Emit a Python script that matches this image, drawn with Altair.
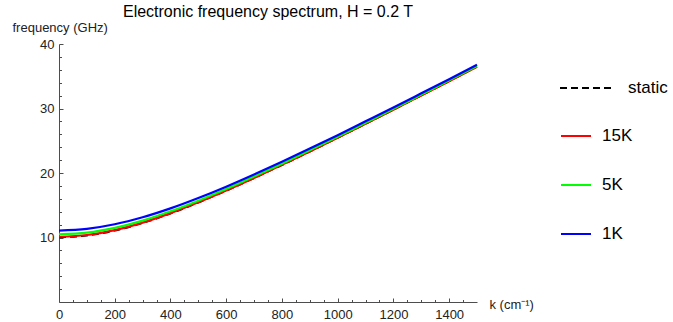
import altair as alt
import pandas as pd

# ---- data ----
k_values = [0, 100, 200, 300, 400, 500, 600, 700, 800, 900, 1000, 1100, 1200, 1300, 1400, 1500]
static_vals = [10.00, 10.27, 11.04, 12.21, 13.69, 15.38, 17.22, 19.17, 21.20, 23.29, 25.42, 27.59, 29.77, 31.99, 34.21, 36.45]
k15_vals = [10.12, 10.39, 11.15, 12.31, 13.78, 15.46, 17.29, 19.23, 21.26, 23.34, 25.47, 27.63, 29.81, 32.03, 34.24, 36.48]
k5_vals = [10.50, 10.76, 11.50, 12.62, 14.06, 15.71, 17.51, 19.44, 21.44, 23.51, 25.62, 27.78, 29.94, 32.15, 34.36, 36.59]
k1_vals = [11.08, 11.34, 12.05, 13.13, 14.51, 16.12, 17.88, 19.77, 21.74, 23.78, 25.87, 28.01, 30.16, 32.35, 34.55, 36.77]

temp_names = ["15K", "5K", "1K"]
temp_colors = ["#ff0000", "#00ff00", "#0000ff"]
static_name = "static"

x_major = [0, 200, 400, 600, 800, 1000, 1200, 1400]
x_minor = [50, 100, 150, 250, 300, 350, 450, 500, 550, 650, 700, 750, 850, 900, 950,
           1050, 1100, 1150, 1250, 1300, 1350, 1450]
y_major = [10, 20, 30, 40]
y_minor = [2, 4, 6, 8, 12, 14, 16, 18, 22, 24, 26, 28, 32, 34, 36, 38]

title_text = "Electronic frequency spectrum, H = 0.2 T"
x_title = "k (cm\u207b\u00b9)"
y_title = "frequency (GHz)"

FONT = "Liberation Sans"
AXIS_COLOR = "#4d4d4d"

static_df = pd.DataFrame({"k": k_values, "f": static_vals, "series": static_name})
temp_df = pd.concat([
    pd.DataFrame({"k": k_values, "f": vals, "series": name})
    for name, vals in zip(temp_names, [k15_vals, k5_vals, k1_vals])
], ignore_index=True)

x_scale = alt.Scale(domain=[0, 1500], nice=False, zero=False)
y_scale = alt.Scale(domain=[0, 40], nice=False, zero=False)

major_x_axis = alt.Axis(
    orient="bottom", values=x_major, format="d", grid=False, domain=True, domainColor=AXIS_COLOR,
    ticks=True, tickColor=AXIS_COLOR, tickSize=alt.ExprRef(expr="-4"), tickWidth=1,
    labelPadding=10, labelFontSize=13, labelFont=FONT, labelColor="#222222",
    labelFlush=False, labelOverlap=False,
    title=x_title, titleFont=FONT, titleFontSize=13, titleFontWeight="normal",
    titleColor="#222222", titleAngle=0, titleAlign="left", titleBaseline="middle",
    titleX=430, titleY=2,
)
major_y_axis = alt.Axis(
    orient="left", values=y_major, format="d", grid=False, domain=True, domainColor=AXIS_COLOR,
    ticks=True, tickColor=AXIS_COLOR, tickSize=alt.ExprRef(expr="-4"), tickWidth=1,
    labelPadding=9, labelFontSize=13, labelFont=FONT, labelColor="#222222",
    labelFlush=False, labelOverlap=False,
    title=y_title, titleFont=FONT, titleFontSize=13, titleFontWeight="normal",
    titleColor="#222222", titleAngle=0, titleAlign="left", titleBaseline="middle",
    titleX=-47, titleY=-17,
)
minor_x_axis = alt.Axis(
    orient="bottom", values=x_minor, grid=False, domain=False, labels=False,
    ticks=True, tickColor=AXIS_COLOR, tickSize=alt.ExprRef(expr="-2.5"), tickWidth=1,
    title=None,
)
minor_y_axis = alt.Axis(
    orient="left", values=y_minor, grid=False, domain=False, labels=False,
    ticks=True, tickColor=AXIS_COLOR, tickSize=alt.ExprRef(expr="-2.5"), tickWidth=1,
    title=None,
)

static_layer = alt.Chart(static_df).mark_line(
    color="black", strokeWidth=1.5, interpolate="monotone"
).encode(
    x=alt.X("k:Q", scale=x_scale, axis=major_x_axis),
    y=alt.Y("f:Q", scale=y_scale, axis=major_y_axis),
    strokeDash=alt.StrokeDash(
        "series:N",
        scale=alt.Scale(domain=[static_name], range=[[7, 4]]),
        legend=alt.Legend(
            orient="none", legendX=500, legendY=36, title=None, padding=0,
            symbolType="stroke", symbolSize=3025, symbolStrokeWidth=2,
            symbolStrokeColor="black", clipHeight=16,
            labelFont=FONT, labelFontSize=17, labelColor="black", labelOffset=12,
        ),
    ),
)

temp_layer = alt.Chart(temp_df).mark_line(
    strokeWidth=2.2, interpolate="monotone"
).encode(
    x=alt.X("k:Q", scale=x_scale, axis=minor_x_axis),
    y=alt.Y("f:Q", scale=y_scale, axis=minor_y_axis),
    color=alt.Color(
        "series:N",
        scale=alt.Scale(domain=temp_names, range=temp_colors),
        legend=alt.Legend(
            orient="none", legendX=501, legendY=84, title=None, padding=0,
            symbolType="stroke", symbolSize=900, symbolStrokeWidth=2,
            clipHeight=16, rowPadding=32,
            labelFont=FONT, labelFontSize=17, labelColor="black", labelOffset=10,
        ),
    ),
    order=alt.Order("series:N"),
)

chart = alt.layer(static_layer, temp_layer).resolve_axis(
    x="independent", y="independent"
).properties(
    width=418,
    height=258,
    title=alt.TitleParams(
        text=title_text, font=FONT, fontSize=16, fontWeight="normal",
        color="black", anchor="middle", offset=0, dy=-1,
    ),
    autosize=alt.AutoSizeParams(type="none"),
    padding={"left": 59, "top": 44, "right": 196, "bottom": 20},
).configure_view(stroke=None)

chart.save("out.html", embed_options={"renderer": "svg", "actions": False})
